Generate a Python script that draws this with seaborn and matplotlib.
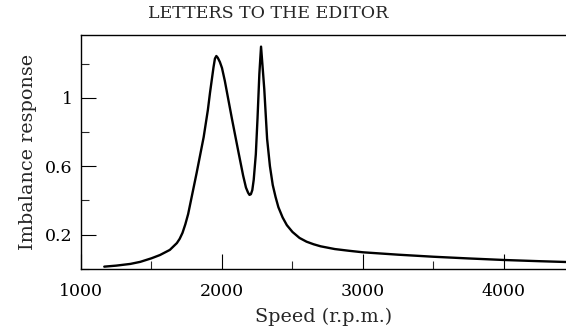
import numpy as np
import pandas as pd
import matplotlib
matplotlib.use("Agg")
import matplotlib.pyplot as plt
import seaborn as sns
from matplotlib.ticker import MultipleLocator

# values
speed = [1165, 1250, 1350, 1420, 1500, 1560, 1630, 1680, 1700, 1720, 1740,
         1760, 1780, 1820, 1870, 1900, 1915, 1930, 1940, 1950, 1960, 1970,
         1985, 2000, 2020, 2045, 2070, 2115, 2150, 2170, 2185, 2195, 2205,
         2215, 2225, 2240, 2252, 2265, 2277, 2290, 2300, 2320, 2340, 2360,
         2380, 2400, 2430, 2460, 2500, 2550, 2600, 2650, 2700, 2800, 2900,
         3000, 3250, 3500, 3750, 4000, 4250, 4450]
response = [0.012, 0.018, 0.028, 0.040, 0.061, 0.080, 0.110, 0.150, 0.175,
            0.210, 0.260, 0.320, 0.400, 0.560, 0.770, 0.930, 1.030, 1.120,
            1.180, 1.230, 1.245, 1.235, 1.210, 1.175, 1.100, 0.990, 0.880,
            0.690, 0.545, 0.475, 0.445, 0.432, 0.436, 0.460, 0.520, 0.670,
            0.880, 1.140, 1.300, 1.160, 1.050, 0.760, 0.600, 0.490, 0.420,
            0.360, 0.300, 0.255, 0.215, 0.180, 0.158, 0.143, 0.131, 0.115,
            0.105, 0.096, 0.082, 0.070, 0.060, 0.051, 0.044, 0.039]

x_ticks = [1000, 2000, 3000, 4000]
y_ticks = [0.2, 0.6, 1.0]
y_ticklabels = ["0.2", "0.6", "1"]

df = pd.DataFrame({"speed": speed, "response": response})

sns.set_style("ticks")
plt.rcParams["font.family"] = ["DejaVu Serif"]

fig = plt.figure(figsize=(5.66, 3.32), dpi=100)
ax = fig.add_axes([81 / 566, 63.3 / 332, 485 / 566, 233.7 / 332])

sns.lineplot(data=df, x="speed", y="response", color="black", linewidth=1.7, ax=ax)

ax.set_xlim(1000, 4440)
ax.set_ylim(0, 1.368)
ax.set_xticks(x_ticks)
ax.set_yticks(y_ticks)
ax.set_yticklabels(y_ticklabels)
ax.xaxis.set_minor_locator(MultipleLocator(500))
ax.yaxis.set_minor_locator(MultipleLocator(0.2))

ax.tick_params(which="major", direction="in", length=11, width=0.8, labelsize=12.5, colors="black")
ax.tick_params(which="minor", direction="in", length=5.5, width=0.8)
ax.tick_params(axis="x", which="major", pad=10)
ax.tick_params(axis="y", which="major", pad=6)

for side in ["left", "bottom", "top"]:
    ax.spines[side].set_linewidth(1.0)
    ax.spines[side].set_color("black")
ax.spines["right"].set_visible(False)

ax.set_xlabel("Speed (r.p.m.)", fontsize=13.8, labelpad=6)
ax.set_ylabel("Imbalance response", fontsize=13.8, labelpad=6)

fig.text(268 / 566, 1 - 14 / 332, "LETTERS TO THE EDITOR", ha="center", va="center", fontsize=12.5)

fig.savefig("out.png", dpi=100)
